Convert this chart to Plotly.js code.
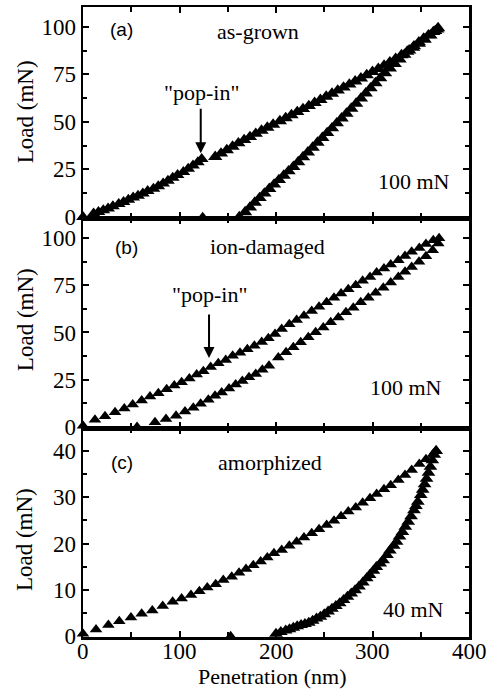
<!DOCTYPE html>
<html>
<head>
<meta charset="utf-8">
<script src="https://cdn.plot.ly/plotly-3.0.1.min.js"></script>
<style>html,body{margin:0;padding:0;background:#fff}</style>
</head>
<body>
<div id="chart" style="width:488px;height:689px"></div>
<script>
// ---- Panel (a): as-grown, 100 mN ----
const aLoad1X = [0, 11, 16, 21, 26, 31, 37, 42, 47, 52, 57, 62, 67, 73, 78, 83, 88, 93, 98, 104, 109, 114, 119, 123];
const aLoad1Y = [0, 1.8, 2.6, 3.5, 4.5, 5.6, 6.8, 7.9, 9.0, 10.2, 11.2, 12.3, 13.6, 14.9, 16.2, 17.6, 19.1, 20.6, 22.1, 23.7, 25.4, 27.1, 28.8, 30.5];
const aLoad2X = [137, 143, 149, 155, 161, 167, 173, 179, 185, 191, 197, 204, 210, 216, 222, 228, 234, 240, 246, 252, 258, 264, 270, 276, 282, 288, 294, 300, 306, 312, 318, 324, 330, 336, 342, 348, 354, 360, 365, 368];
const aLoad2Y = [31.6, 33.4, 35.2, 37.0, 38.8, 40.5, 42.1, 43.8, 45.4, 47.0, 48.6, 50.4, 52.0, 53.6, 55.2, 56.8, 58.4, 60.0, 61.6, 63.3, 64.9, 66.5, 68.1, 69.7, 71.3, 72.9, 74.6, 76.3, 77.9, 79.6, 81.4, 83.2, 85.1, 87.0, 89.0, 91.1, 93.3, 95.5, 97.8, 99.3];
const aUnloadX = [162, 168, 173, 178, 183, 188, 193, 198, 203, 208, 213, 218, 223, 228, 233, 238, 243, 248, 253, 258, 263, 268, 273, 278, 283, 288, 293, 298, 303, 308, 313, 318, 323, 328, 333, 338, 343, 348, 353, 358, 363, 367];
const aUnloadY = [0, 2.6, 5.0, 7.6, 10.0, 12.4, 14.8, 17.1, 19.5, 21.8, 24.1, 26.4, 28.9, 31.5, 34.0, 36.5, 39.1, 41.6, 44.2, 46.7, 49.3, 51.9, 54.4, 57.0, 59.6, 62.3, 65.0, 67.7, 70.4, 73.0, 75.6, 78.1, 80.5, 82.9, 85.3, 87.6, 89.8, 91.9, 93.8, 95.6, 97.3, 98.6];
const aZeroX = [124];
const aZeroY = [0];

// ---- Panel (b): ion-damaged, 100 mN ----
const bLoadX = [0, 12.4, 22.8, 33.2, 42.8, 51.5, 60.8, 69.4, 78.1, 86.7, 94.6, 102.2, 110.2, 117.8, 124.7, 132.3, 140.2, 147.9, 155.1, 162.7, 170.3, 177.6, 185.2, 192.1, 199.0, 205.9, 213.8, 221.4, 229.0, 237.0, 244.6, 252.5, 260.1, 267.4, 274.9, 282.6, 289.8, 297.4, 304.3, 311.9, 318.9, 326.8, 333.7, 340.6, 348.5, 355.4, 363.0, 369.0];
const bLoadY = [0.5, 3.7, 5.5, 7.6, 9.7, 11.8, 13.9, 16.0, 17.8, 19.9, 21.9, 23.6, 25.6, 27.7, 29.4, 31.7, 33.7, 35.4, 37.6, 39.3, 41.1, 42.9, 45.0, 46.9, 49.2, 51.9, 54.3, 56.6, 58.9, 61.4, 63.7, 66.0, 68.4, 70.7, 73.0, 75.1, 77.4, 79.5, 81.8, 84.0, 86.1, 88.4, 90.6, 92.8, 94.9, 97.0, 98.9, 100.0];
const bUnloadX = [74.6, 86.0, 96.4, 105.7, 114.3, 121.9, 129.9, 136.8, 143.7, 151.3, 158.2, 165.1, 172.0, 179.0, 185.8, 192.7, 202.4, 210.4, 218.0, 225.6, 233.5, 241.1, 249.0, 256.7, 264.6, 272.5, 280.1, 287.8, 295.7, 303.3, 311.2, 318.9, 326.8, 333.7, 340.6, 348.2, 355.4, 362.4, 368.2];
const bUnloadY = [2.3, 4.1, 5.8, 8.1, 10.1, 12.2, 14.3, 16.4, 18.2, 20.3, 22.4, 24.3, 26.3, 28.0, 30.2, 32.3, 36.7, 39.5, 42.2, 44.8, 47.5, 50.1, 52.7, 55.4, 58.0, 60.7, 63.1, 66.0, 68.4, 71.1, 73.7, 76.5, 79.5, 82.2, 84.8, 87.5, 90.5, 93.7, 97.2];
const bZeroX = [56];
const bZeroY = [0];

// ---- Panel (c): amorphized, 40 mN ----
const cLoadX = [0, 13.5, 26.3, 37.6, 49.7, 60.8, 71.8, 82.6, 92.9, 102.2, 111.9, 120.6, 128.8, 137.5, 145.4, 154.1, 161.7, 168.9, 176.5, 184.1, 191.0, 197.9, 205.9, 213.8, 221.4, 229.0, 237.0, 244.6, 252.5, 260.1, 267.4, 274.9, 282.6, 289.8, 297.4, 304.3, 311.9, 318.9, 326.8, 333.7, 340.6, 348.5, 355.4, 363.0, 365.8];
const cLoadY = [0.5, 1.4, 2.4, 3.2, 4.0, 4.8, 5.5, 6.5, 7.4, 8.1, 8.9, 9.7, 10.5, 11.2, 12.1, 12.8, 13.7, 14.5, 15.3, 16.1, 17.0, 17.9, 18.6, 19.5, 20.4, 21.3, 22.2, 23.1, 24.0, 24.9, 25.9, 26.9, 27.8, 28.8, 29.8, 30.7, 31.7, 32.6, 33.7, 34.8, 35.9, 37.2, 38.2, 39.4, 40.1];
const cUnloadX = [200, 205, 210, 214, 218, 222, 226, 230, 234, 238, 242, 246, 250, 254, 258, 262, 266, 270, 274, 278, 282, 286, 290, 294, 297, 301, 304, 308, 311, 315, 318, 322, 325, 328, 331, 334, 337, 340, 343, 345, 347, 350, 352, 354, 356, 358, 360, 362, 364, 366];
const cUnloadY = [0.5, 0.9, 1.2, 1.5, 1.8, 2.1, 2.4, 2.6, 2.9, 3.3, 3.8, 4.2, 4.7, 5.3, 5.9, 6.5, 7.1, 7.8, 8.5, 9.2, 9.9, 10.7, 11.6, 12.5, 13.2, 14.1, 14.9, 15.7, 16.4, 17.5, 18.5, 19.5, 20.4, 21.5, 22.5, 23.6, 24.7, 25.9, 27.2, 28.1, 29.0, 30.5, 31.6, 32.8, 34.0, 35.3, 36.6, 38.0, 39.2, 40.0];
const cZeroX = [153];
const cZeroY = [0];

// tick labels
const xTickVals = [0, 100, 200, 300, 400];
const xTickText = ['0', '100', '200', '300', '400'];
const yTickVals100 = [0, 25, 50, 75, 100];
const yTickVals40 = [0, 10, 20, 30, 40];

function tr(x, y, xa, ya, sz) {
  return {x: x, y: y, type: 'scatter', mode: 'markers',
          marker: {symbol: 'triangle-up', size: sz, color: 'black', line: {width: 0}},
          xaxis: xa, yaxis: ya, cliponaxis: false, hoverinfo: 'skip'};
}
const data = [
  tr(aLoad1X, aLoad1Y, 'x', 'y', 12), tr(aLoad2X, aLoad2Y, 'x', 'y', 12.5), tr(aUnloadX, aUnloadY, 'x', 'y', 12.5), tr(aZeroX, aZeroY, 'x', 'y', 10.5),
  tr(bLoadX, bLoadY, 'x2', 'y2', 11), tr(bUnloadX, bUnloadY, 'x2', 'y2', 11), tr(bZeroX, bZeroY, 'x2', 'y2', 10.5),
  tr(cLoadX, cLoadY, 'x3', 'y3', 11), tr(cUnloadX, cUnloadY, 'x3', 'y3', 12), tr(cZeroX, cZeroY, 'x3', 'y3', 10.5)
];

const serif = 'Liberation Serif';
const sans = 'Liberation Sans';

function xax(anchor) {
  return {
    anchor: anchor, range: [0, 400], tickmode: 'array', tickvals: xTickVals, showticklabels: false,
    ticks: 'inside', ticklen: 6, tickwidth: 2, tickcolor: 'black',
    minor: {tickmode: 'linear', tick0: 0, dtick: 50, ticks: 'inside', ticklen: 5, tickwidth: 2, tickcolor: 'black'},
    showline: true, linewidth: 2.5, linecolor: 'black', mirror: 'ticks',
    showgrid: false, zeroline: false
  };
}
function yax(anchor, domain, range, vals, minorStep) {
  return {
    anchor: anchor, domain: domain, range: range, tickmode: 'array', tickvals: vals,
    ticks: 'inside', ticklen: 6, tickwidth: 2, tickcolor: 'black',
    minor: {tickmode: 'linear', tick0: 0, dtick: minorStep, ticks: 'inside', ticklen: 4, tickwidth: 2, tickcolor: 'black'},
    showline: true, linewidth: 2.5, linecolor: 'black', mirror: 'ticks',
    showgrid: false, zeroline: false, tickfont: {family: serif, size: 23, color: 'black'}
  };
}

function txt(text, x, y, xr, yr, font, size) {
  return {text: text, x: x, y: y, xref: xr, yref: yr, showarrow: false, xanchor: 'center', yanchor: 'middle',
          font: {family: font, size: size, color: 'black'}};
}
function arrow(x, y0, y1, xr, yr) {
  return {text: '', x: x, y: y1, ax: x, ay: y0, xref: xr, yref: yr, axref: xr, ayref: yr,
          showarrow: true, arrowhead: 2, arrowsize: 1.1, arrowwidth: 2, arrowcolor: 'black', standoff: 0};
}
function ytitle(yr, yy) {
  return {text: 'Load (mN)', textangle: -90, x: -0.150, y: yy, xref: 'paper', yref: yr, showarrow: false,
          xanchor: 'center', yanchor: 'middle', font: {family: serif, size: 23, color: 'black'}};
}

const annotations = [
  txt('(a)', 40, 98.8, 'x', 'y', sans, 19),
  txt('as-grown', 181, 97.7, 'x', 'y', serif, 22),
  txt('"pop-in"', 123, 65.6, 'x', 'y', serif, 22),
  arrow(122, 57.7, 33.5, 'x', 'y'),
  txt('100 mN', 343, 18.8, 'x', 'y', serif, 22),
  txt('(b)', 44.6, 94.9, 'x2', 'y2', sans, 19),
  txt('ion-damaged', 190.7, 95.4, 'x2', 'y2', serif, 22),
  txt('"pop-in"', 130.6, 70, 'x2', 'y2', serif, 22),
  arrow(130.6, 60.3, 36.5, 'x2', 'y2'),
  txt('100 mN', 334.7, 21, 'x2', 'y2', serif, 22),
  txt('(c)', 40.4, 37.6, 'x3', 'y3', sans, 19),
  txt('amorphized', 193.8, 37.4, 'x3', 'y3', serif, 22),
  txt('40 mN', 342, 5.8, 'x3', 'y3', serif, 22),
  ytitle('y domain', 0.503),
  ytitle('y2 domain', 0.516),
  ytitle('y3 domain', 0.465),
  {text: 'Penetration (nm)', x: 0.49, y: -0.0625, xref: 'paper', yref: 'paper', showarrow: false,
   xanchor: 'center', yanchor: 'middle', font: {family: serif, size: 22, color: 'black'}}
];
// x tick labels placed just under the bottom axis
xTickVals.forEach(function (v, i) {
  annotations.push({text: xTickText[i], x: v, y: -0.023, xref: 'x3', yref: 'paper', showarrow: false,
    xanchor: 'center', yanchor: 'middle', font: {family: serif, size: 23, color: 'black'}});
});

const layout = {
  width: 488, height: 689,
  margin: {l: 83, r: 19, t: 7, b: 52},
  paper_bgcolor: 'white', plot_bgcolor: 'white', showlegend: false,
  font: {family: serif, size: 22, color: 'black'},
  xaxis: xax('y'),
  xaxis2: xax('y2'),
  xaxis3: xax('y3'),
  yaxis: yax('x', [0.6643, 1], [-0.8, 110.4], yTickVals100, 12.5),
  yaxis2: yax('x2', [0.3313, 0.6643], [-0.85, 110.5], yTickVals100, 12.5),
  yaxis3: yax('x3', [0, 0.3313], [-0.2, 44.9], yTickVals40, 5),
  annotations: annotations
};

Plotly.newPlot('chart', data, layout, {displayModeBar: false, staticPlot: true});
</script>
</body>
</html>
